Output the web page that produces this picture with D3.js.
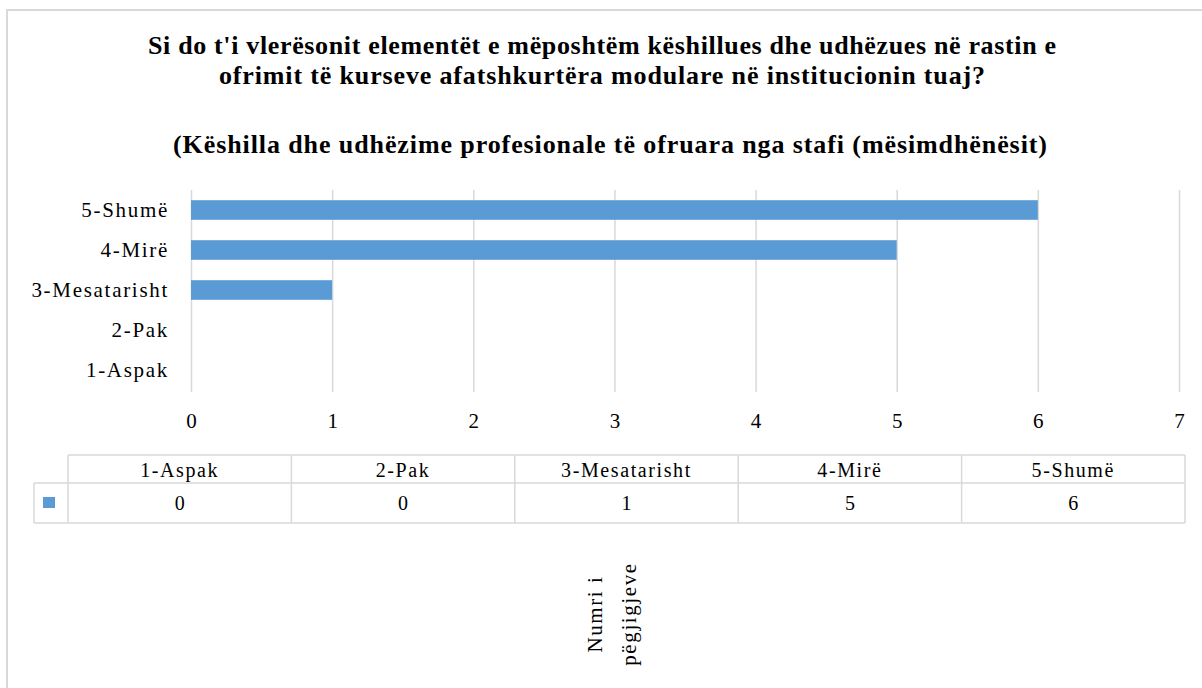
<!DOCTYPE html>
<html>
<head>
<meta charset="utf-8">
<script src="https://cdn.jsdelivr.net/npm/d3@7"></script>
<style>
  body { margin: 0; background: #fff; }
  svg text { font-family: "Liberation Serif", "Times New Roman", serif; fill: #000; }
</style>
</head>
<body>
<svg id="chart" width="1202" height="688"></svg>
<script>
const categories = ['1-Aspak', '2-Pak', '3-Mesatarisht', '4-Mirë', '5-Shumë'];
const values = [0, 0, 1, 5, 6];
const xTicks = [0, 1, 2, 3, 4, 5, 6, 7];
const titleLines = [
  "Si do t'i vlerësonit elementët e mëposhtëm këshillues dhe udhëzues në rastin e",
  "ofrimit të kurseve afatshkurtëra modulare në institucionin tuaj?"
];
const subtitle = '(Këshilla dhe udhëzime profesionale të ofruara nga stafi (mësimdhënësit)';
const axisTitle = ['Numri i', 'pëgjigjeve'];

const svg = d3.select('#chart');
const barColor = '#5b9bd5',
  gridColor = '#d9d9d9',
  serif = '"Liberation Serif", "Times New Roman", serif';

const data = categories.map((c, i) => ({name: c, value: values[i]}));

// outer frame
svg.append('rect')
  .attr('x', 7).attr('y', 10)
  .attr('width', 1300).attr('height', 800)
  .attr('fill', 'none')
  .attr('stroke', gridColor)
  .attr('stroke-width', 2);

// titles (widths)
const titleWidths = [908, 766];
svg.append('g')
  .selectAll('text')
  .data(titleLines)
  .join('text')
    .attr('x', 602)
    .attr('y', (d, i) => 54 + i * 30)
    .attr('text-anchor', 'middle')
    .attr('textLength', (d, i) => titleWidths[i])
    .attr('lengthAdjust', 'spacing')
    .style('font-family', serif)
    .style('font-size', '26px')
    .style('font-weight', 'bold')
    .text(d => d);

svg.append('text')
  .attr('x', 610)
  .attr('y', 153)
  .attr('text-anchor', 'middle')
  .attr('textLength', 874)
  .attr('lengthAdjust', 'spacing')
  .style('font-family', serif)
  .style('font-size', '26px')
  .style('font-weight', 'bold')
  .text(subtitle);

const x = d3.scaleLinear()
  .domain([0, 7])
  .range([191, 1179]);

const y = d3.scaleBand()
  .domain(categories.slice().reverse())
  .range([190, 390])
  .paddingInner(0.51)
  .paddingOuter(0.255);

// gridlines + x labels
const xAxis = svg.append('g')
  .attr('transform', 'translate(0, 392)')
  .call(d3.axisBottom(x).tickValues(xTicks).tickSize(-202).tickPadding(21).tickFormat(d3.format('d')));
xAxis.select('.domain').remove();
xAxis.selectAll('line').attr('stroke', gridColor).attr('stroke-width', 1.5);
xAxis.selectAll('text')
  .style('font-family', serif)
  .style('font-size', '21px');

// bars
svg.selectAll('rect.bar')
    .data(data)
  .join('rect')
    .attr('class', 'bar')
    .attr('x', x(0))
    .attr('y', d => y(d.name))
    .attr('width', d => x(d.value) - x(0))
    .attr('height', y.bandwidth())
    .attr('fill', barColor);

// category labels
const yAxis = svg.append('g')
  .attr('transform', `translate(${x(0)}, 0)`)
  .call(d3.axisLeft(y).tickSize(0).tickPadding(22));
yAxis.select('.domain').remove();
yAxis.selectAll('text')
  .style('font-family', serif)
  .style('font-size', '21px')
  .style('letter-spacing', '1.7px');

// data table
const col = d3.scaleBand()
  .domain(categories)
  .range([68, 1185]);
const rowTop = 455, rowMid = 483, rowBot = 523, legLeft = 34;

const table = svg.append('g').attr('class', 'table');
const tl = (x1, y1, x2, y2) => table.append('line')
  .attr('x1', x1).attr('y1', y1).attr('x2', x2).attr('y2', y2)
  .attr('stroke', gridColor).attr('stroke-width', 1.5);

tl(col.range()[0], rowTop, col.range()[1], rowTop);
tl(legLeft, rowMid, col.range()[1], rowMid);
tl(legLeft, rowBot, col.range()[1], rowBot);
tl(legLeft, rowMid, legLeft, rowBot);
categories.forEach(c => tl(col(c), rowTop, col(c), rowBot));
tl(col.range()[1], rowTop, col.range()[1], rowBot);

table.selectAll('text.head')
  .data(categories)
  .join('text')
    .attr('class', 'head')
    .attr('x', d => col(d) + col.bandwidth() / 2)
    .attr('y', 477)
    .attr('text-anchor', 'middle')
    .style('font-size', '20px')
    .style('letter-spacing', '1.6px')
    .text(d => d);

table.selectAll('text.val')
  .data(data)
  .join('text')
    .attr('class', 'val')
    .attr('x', d => col(d.name) + col.bandwidth() / 2)
    .attr('y', 510)
    .attr('text-anchor', 'middle')
    .style('font-size', '20px')
    .text(d => d.value);

table.append('rect')
  .attr('x', 43).attr('y', 497)
  .attr('width', 12).attr('height', 11)
  .attr('fill', barColor);

// rotated axis title
svg.append('g')
  .attr('transform', 'translate(602, 614) rotate(-90)')
  .selectAll('text')
  .data(axisTitle)
  .join('text')
    .attr('x', 0)
    .attr('y', (d, i) => i * 34)
    .attr('text-anchor', 'middle')
    .style('font-size', '21px')
    .style('letter-spacing', '1.6px')
    .text(d => d);
</script>
</body>
</html>
